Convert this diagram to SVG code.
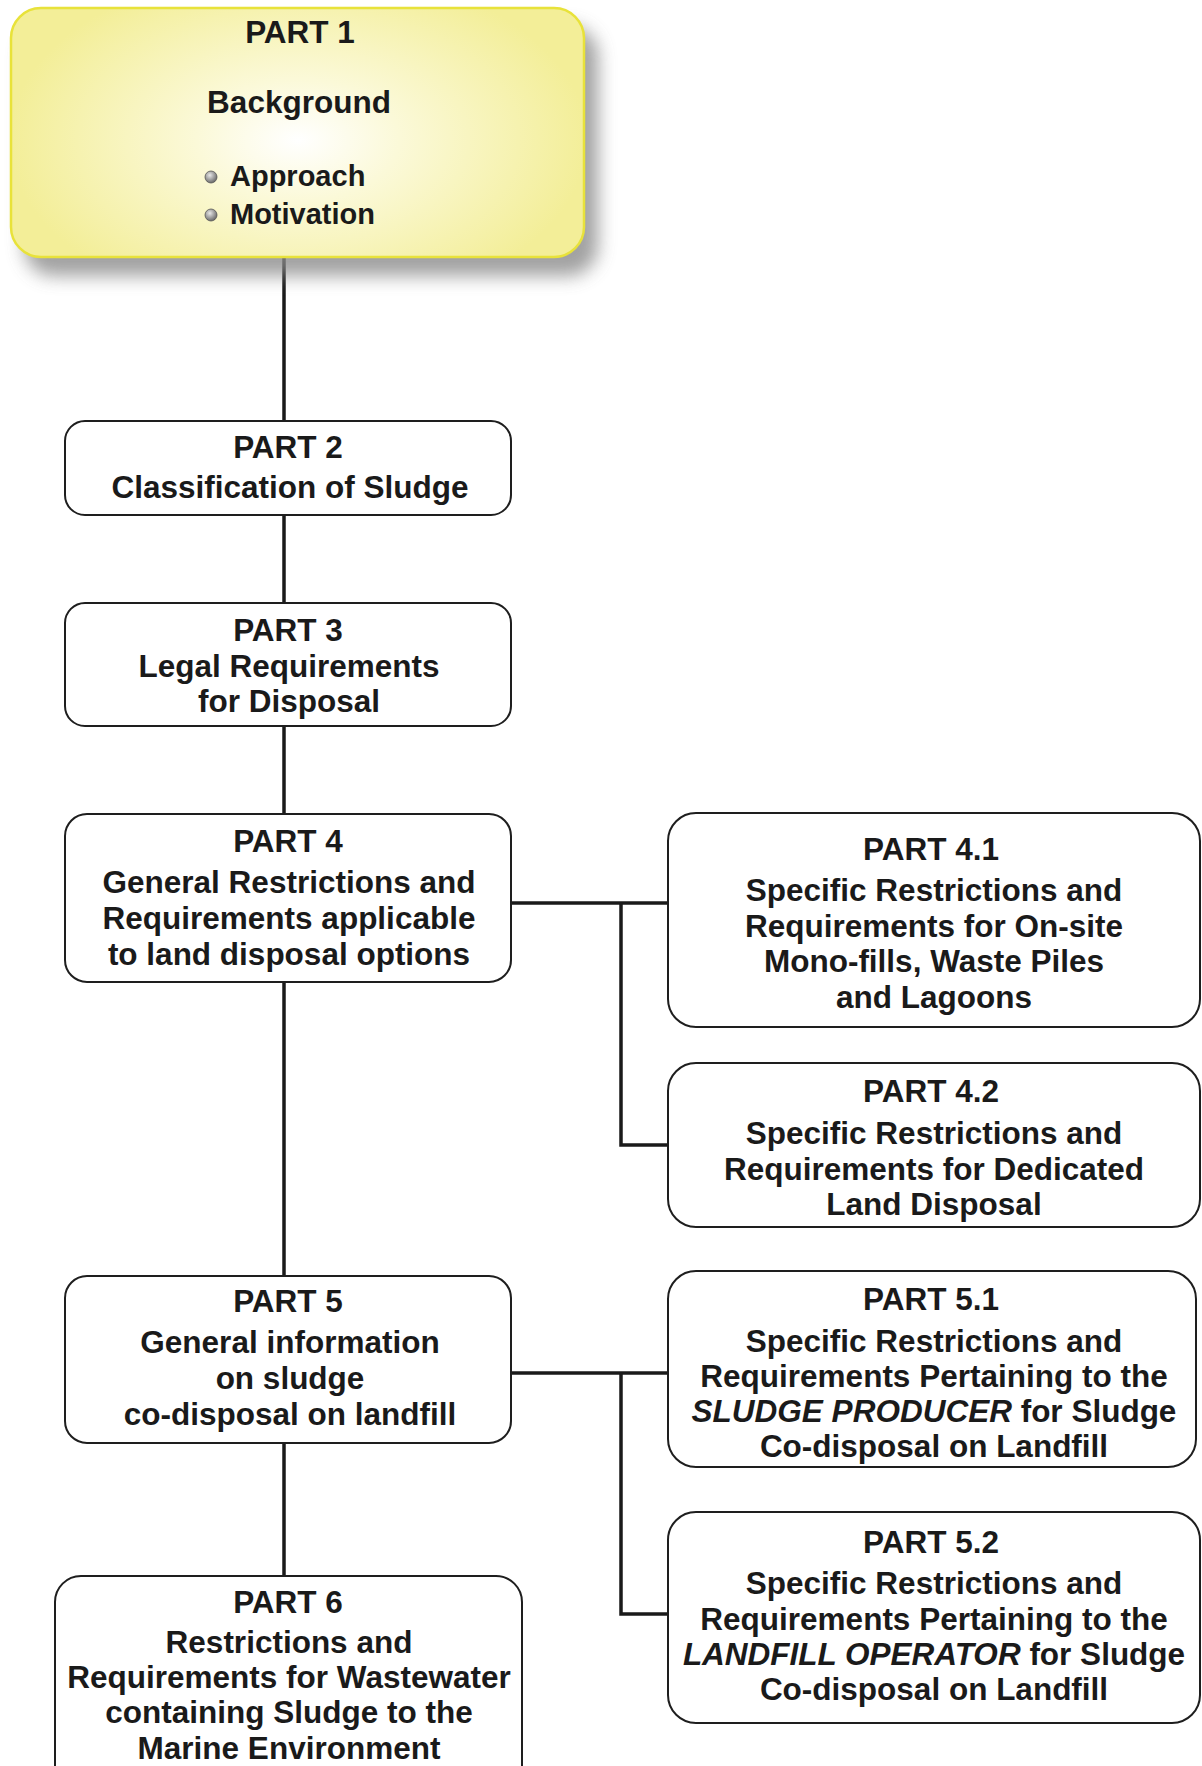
<svg xmlns="http://www.w3.org/2000/svg" width="1202" height="1766" viewBox="0 0 1202 1766">
  <defs>
    <radialGradient id="bg1" gradientUnits="userSpaceOnUse" cx="298" cy="140" r="290" gradientTransform="translate(298 140) scale(1 0.6) translate(-298 -140)">
      <stop offset="0" stop-color="#ffffff"/>
      <stop offset="0.35" stop-color="#fbf9d8"/>
      <stop offset="1" stop-color="#f3ee98"/>
    </radialGradient>
    <radialGradient id="bullet" cx="0.4" cy="0.35" r="0.65">
      <stop offset="0" stop-color="#e8e8e8"/>
      <stop offset="1" stop-color="#6a6a6a"/>
    </radialGradient>
    <filter id="shadow" x="-10%" y="-10%" width="130%" height="140%">
      <feGaussianBlur stdDeviation="9"/>
    </filter>
  </defs>
  <style>
    .box { fill: #ffffff; stroke: #1e1e1e; stroke-width: 2; }
    .t { font-family: "Liberation Sans", Arial, sans-serif; font-weight: bold; font-size: 31.5px; fill: #1a1a1a; text-anchor: middle; }
    .tl { font-family: "Liberation Sans", Arial, sans-serif; font-weight: bold; font-size: 29px; fill: #1a1a1a; }
    .it { font-style: italic; }
    .conn { fill: none; stroke: #1a1a1a; stroke-width: 3.5; }
  </style>
  <rect width="1202" height="1766" fill="#ffffff"/>

  <g id="connectors">
    <line class="conn" x1="284" y1="257" x2="284" y2="421"/>
    <line class="conn" x1="284" y1="515" x2="284" y2="603"/>
    <line class="conn" x1="284" y1="726" x2="284" y2="814"/>
    <line class="conn" x1="284" y1="982" x2="284" y2="1276"/>
    <line class="conn" x1="284" y1="1443" x2="284" y2="1576"/>
    <polyline class="conn" points="511,903 668,903"/>
    <polyline class="conn" points="621,903 621,1145 668,1145"/>
    <polyline class="conn" points="511,1373 668,1373"/>
    <polyline class="conn" points="621,1373 621,1614 668,1614"/>
  </g>

  <g id="part1">
    <rect x="24" y="26" width="574" height="250" rx="30" fill="#8a8a8a" opacity="0.8" filter="url(#shadow)"/>
    <rect x="11" y="8" width="573" height="249" rx="30" fill="url(#bg1)" stroke="#e8e23a" stroke-width="2.5"/>
    <text class="t" x="300" y="43">PART 1</text>
    <text class="t" x="299" y="113">Background</text>
    <circle cx="211" cy="177" r="6" fill="url(#bullet)" stroke="#555" stroke-width="0.8"/>
    <circle cx="211" cy="215" r="6" fill="url(#bullet)" stroke="#555" stroke-width="0.8"/>
    <text class="tl" x="230" y="186">Approach</text>
    <text class="tl" x="230" y="224">Motivation</text>
  </g>

  <g id="part2">
    <rect class="box" x="65" y="421" width="446" height="94" rx="20"/>
    <text class="t" x="288" y="458">PART 2</text>
    <text class="t" x="290" y="498">Classification of Sludge</text>
  </g>

  <g id="part3">
    <rect class="box" x="65" y="603" width="446" height="123" rx="20"/>
    <text class="t" x="288" y="641">PART 3</text>
    <text class="t" x="289" y="677">Legal Requirements</text>
    <text class="t" x="289" y="712">for Disposal</text>
  </g>

  <g id="part4">
    <rect class="box" x="65" y="814" width="446" height="168" rx="22"/>
    <text class="t" x="288" y="852">PART 4</text>
    <text class="t" x="289" y="893">General Restrictions and</text>
    <text class="t" x="289" y="929">Requirements applicable</text>
    <text class="t" x="289" y="965">to land disposal options</text>
  </g>

  <g id="part4-1">
    <rect class="box" x="668" y="813" width="532" height="214" rx="28"/>
    <text class="t" x="931" y="860">PART 4.1</text>
    <text class="t" x="934" y="901">Specific Restrictions and</text>
    <text class="t" x="934" y="937">Requirements for On-site</text>
    <text class="t" x="934" y="972">Mono-fills, Waste Piles</text>
    <text class="t" x="934" y="1008">and Lagoons</text>
  </g>

  <g id="part4-2">
    <rect class="box" x="668" y="1063" width="532" height="164" rx="28"/>
    <text class="t" x="931" y="1102">PART 4.2</text>
    <text class="t" x="934" y="1144">Specific Restrictions and</text>
    <text class="t" x="934" y="1180">Requirements for Dedicated</text>
    <text class="t" x="934" y="1215">Land Disposal</text>
  </g>

  <g id="part5">
    <rect class="box" x="65" y="1276" width="446" height="167" rx="22"/>
    <text class="t" x="288" y="1312">PART 5</text>
    <text class="t" x="290" y="1353">General information</text>
    <text class="t" x="290" y="1389">on sludge</text>
    <text class="t" x="290" y="1425">co-disposal on landfill</text>
  </g>

  <g id="part5-1">
    <rect class="box" x="668" y="1271" width="528" height="196" rx="28"/>
    <text class="t" x="931" y="1310">PART 5.1</text>
    <text class="t" x="934" y="1352">Specific Restrictions and</text>
    <text class="t" x="934" y="1387">Requirements Pertaining to the</text>
    <text class="t" x="934" y="1422"><tspan class="it">SLUDGE PRODUCER</tspan> for Sludge</text>
    <text class="t" x="934" y="1457">Co-disposal on Landfill</text>
  </g>

  <g id="part5-2">
    <rect class="box" x="668" y="1512" width="532" height="211" rx="28"/>
    <text class="t" x="931" y="1553">PART 5.2</text>
    <text class="t" x="934" y="1594">Specific Restrictions and</text>
    <text class="t" x="934" y="1630">Requirements Pertaining to the</text>
    <text class="t" x="934" y="1665"><tspan class="it">LANDFILL OPERATOR</tspan> for Sludge</text>
    <text class="t" x="934" y="1700">Co-disposal on Landfill</text>
  </g>

  <g id="part6">
    <rect class="box" x="55" y="1576" width="467" height="215" rx="26"/>
    <text class="t" x="288" y="1613">PART 6</text>
    <text class="t" x="289" y="1653">Restrictions and</text>
    <text class="t" x="289" y="1688">Requirements for Wastewater</text>
    <text class="t" x="289" y="1723">containing Sludge to the</text>
    <text class="t" x="289" y="1759">Marine Environment</text>
  </g>
</svg>
